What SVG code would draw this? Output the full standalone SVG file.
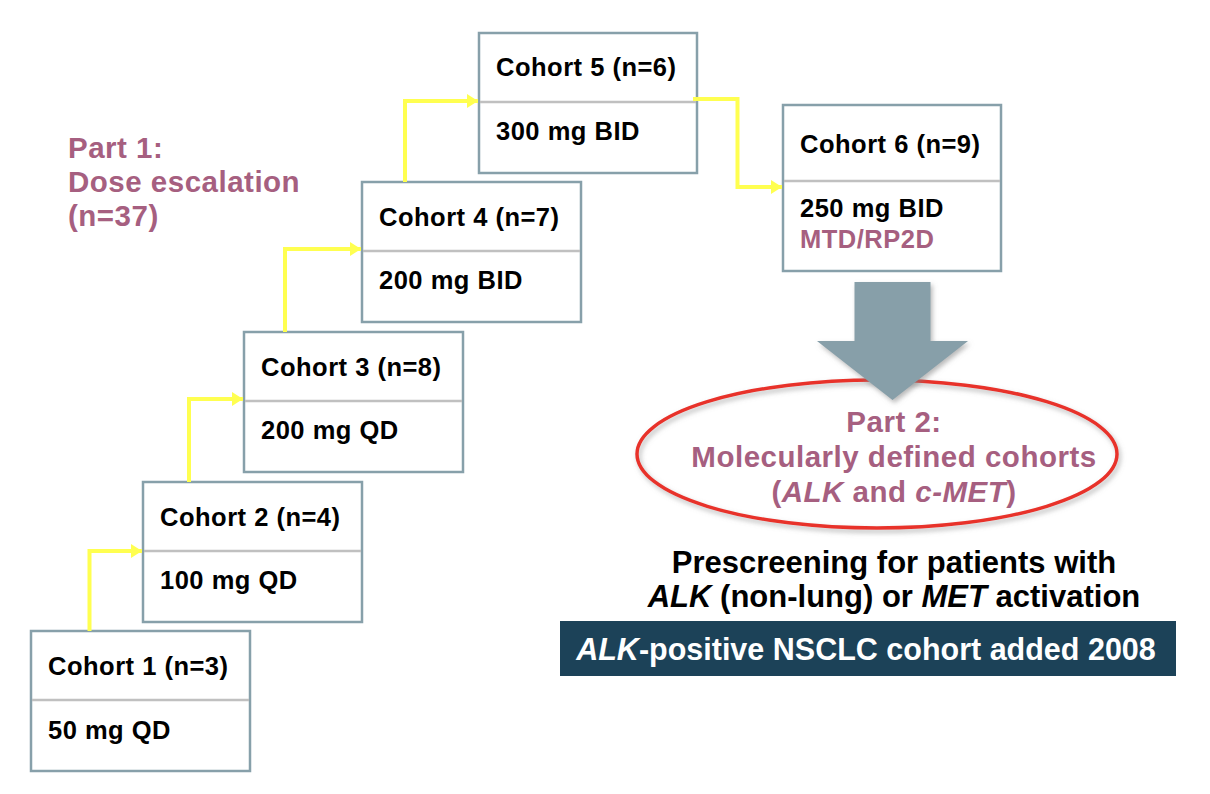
<svg xmlns="http://www.w3.org/2000/svg" width="1210" height="794" viewBox="0 0 1210 794">
<style>
  .box { fill: #ffffff; stroke: #87a0aa; stroke-width: 2.5; }
  .div { stroke: #c0c0c0; stroke-width: 2.5; }
  .t { font-family: "Liberation Sans", Arial, Helvetica, sans-serif; font-weight: bold; }
  .ct { font-size: 25.5px; letter-spacing: 0.5px; fill: #000000; }
  .mv { fill: #a65f80; }
  .big { font-size: 29.5px; letter-spacing: 0.5px; }
  .pre { font-size: 31px; fill: #000000; }
  .ban { font-size: 30.5px; fill: #ffffff; }
  .conn { fill: none; stroke: #ffff50; stroke-width: 4; }
</style>
<defs>
  <marker id="ah" markerUnits="userSpaceOnUse" markerWidth="12" markerHeight="14" refX="11" refY="7" orient="auto">
    <path d="M0,0 L11,7 L0,14 Z" fill="#ffff50"/>
  </marker>
  <filter id="sh" x="-10%" y="-20%" width="120%" height="140%">
    <feDropShadow dx="2" dy="3" stdDeviation="2.5" flood-color="#808080" flood-opacity="0.55"/>
  </filter>
</defs>
<rect width="1210" height="794" fill="#ffffff"/>

<g id="part1-label">
  <text class="t big mv" x="68" y="158">Part 1:</text>
  <text class="t big mv" x="68" y="192">Dose escalation</text>
  <text class="t big mv" x="68" y="226">(n=37)</text>
</g>

<g id="cohort1">
  <rect class="box" x="31" y="631" width="219" height="140"/>
  <line class="div" x1="32" y1="700" x2="249" y2="700"/>
  <text class="t ct" x="48" y="675">Cohort 1 (n=3)</text>
  <text class="t ct" x="48" y="739">50 mg QD</text>
</g>
<g id="cohort2">
  <rect class="box" x="143" y="482" width="219" height="140"/>
  <line class="div" x1="144" y1="551" x2="361" y2="551"/>
  <text class="t ct" x="160" y="526">Cohort 2 (n=4)</text>
  <text class="t ct" x="160" y="589">100 mg QD</text>
</g>
<g id="cohort3">
  <rect class="box" x="244" y="332" width="219" height="140"/>
  <line class="div" x1="245" y1="401" x2="462" y2="401"/>
  <text class="t ct" x="261" y="376">Cohort 3 (n=8)</text>
  <text class="t ct" x="261" y="439">200 mg QD</text>
</g>
<g id="cohort4">
  <rect class="box" x="362" y="182" width="219" height="140"/>
  <line class="div" x1="363" y1="251" x2="580" y2="251"/>
  <text class="t ct" x="379" y="226">Cohort 4 (n=7)</text>
  <text class="t ct" x="379" y="289">200 mg BID</text>
</g>
<g id="cohort5">
  <rect class="box" x="479" y="33" width="218" height="140"/>
  <line class="div" x1="480" y1="102" x2="696" y2="102"/>
  <text class="t ct" x="496" y="76">Cohort 5 (n=6)</text>
  <text class="t ct" x="496" y="140">300 mg BID</text>
</g>
<g id="cohort6">
  <rect class="box" x="783" y="105" width="218" height="166"/>
  <line class="div" x1="784" y1="181" x2="1000" y2="181"/>
  <text class="t ct" x="800" y="153">Cohort 6 (n=9)</text>
  <text class="t ct" x="800" y="217">250 mg BID</text>
  <text class="t ct mv" x="800" y="248">MTD/RP2D</text>
</g>

<g id="connectors">
  <path class="conn" d="M89.5,631 V551 H142" marker-end="url(#ah)"/>
  <path class="conn" d="M189,482 V399 H243" marker-end="url(#ah)"/>
  <path class="conn" d="M285,332 V249 H361" marker-end="url(#ah)"/>
  <path class="conn" d="M405,182 V101 H478" marker-end="url(#ah)"/>
  <path class="conn" d="M693,99 H737.5 V187 H782" marker-end="url(#ah)"/>
</g>

<g id="part2">
  <ellipse cx="877" cy="454" rx="240" ry="74" fill="none" stroke="#e8322a" stroke-width="3.5" filter="url(#sh)"/>
  <g id="big-arrow" filter="url(#sh)">
    <polygon points="854.5,282 930.5,282 930.5,341 968,341 892.5,400 817,341 854.5,341" fill="#879fa9"/>
  </g>
  <text class="t big mv" x="894" y="432" text-anchor="middle">Part 2:</text>
  <text class="t big mv" x="894" y="467" text-anchor="middle">Molecularly defined cohorts</text>
  <text class="t big mv" x="894" y="502" text-anchor="middle">(<tspan font-style="italic">ALK</tspan> and <tspan font-style="italic">c-MET</tspan>)</text>
</g>

<g id="prescreening">
  <text class="t pre" x="894" y="573" text-anchor="middle">Prescreening for patients with</text>
  <text class="t pre" x="894" y="607" text-anchor="middle"><tspan font-style="italic">ALK</tspan> (non-lung) or <tspan font-style="italic">MET</tspan> activation</text>
</g>

<g id="nsclc-banner">
  <rect x="560" y="621" width="616" height="55" fill="#1c4258"/>
  <text class="t ban" x="866" y="660" text-anchor="middle"><tspan font-style="italic">ALK</tspan>-positive NSCLC cohort added 2008</text>
</g>
</svg>
